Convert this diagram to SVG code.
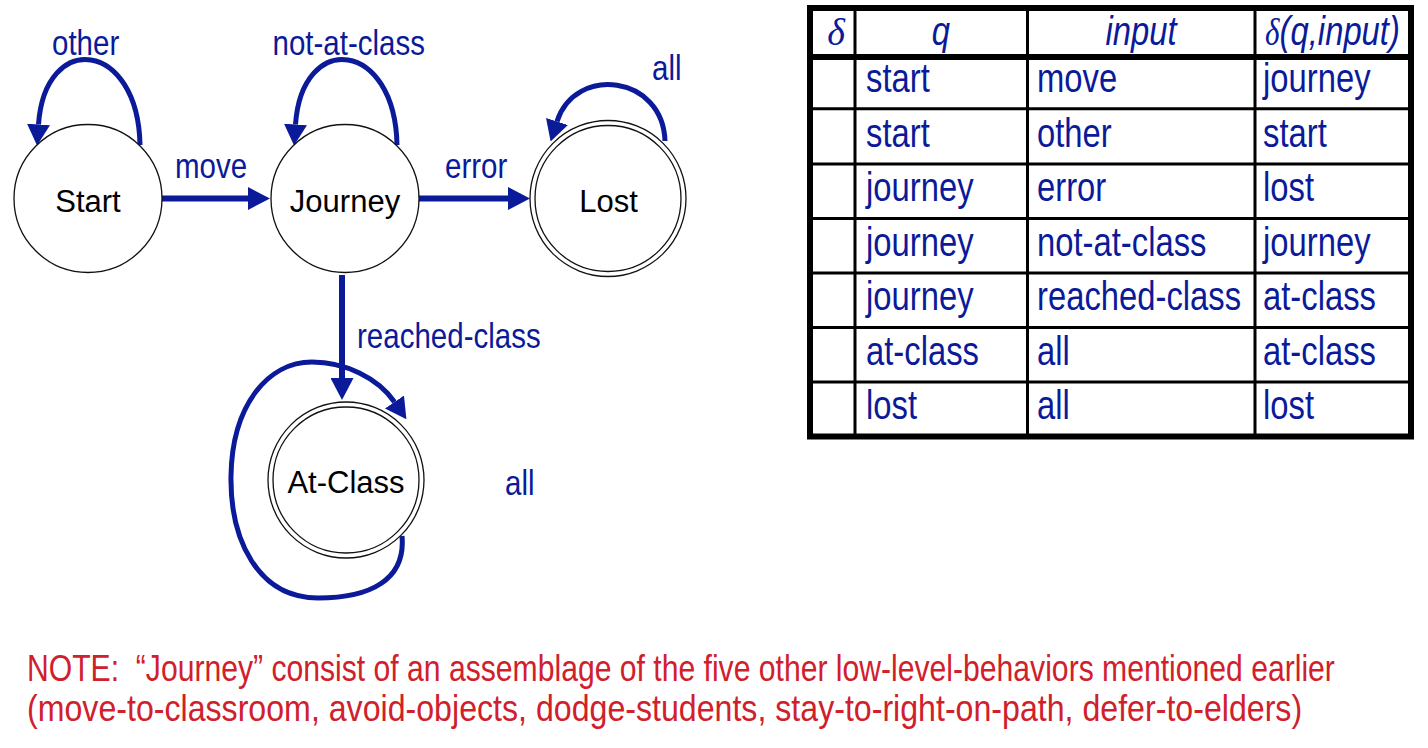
<svg xmlns="http://www.w3.org/2000/svg" width="1428" height="748" viewBox="0 0 1428 748">
<style>
.bg{fill:#ffffff}
.node{fill:#ffffff;stroke:#111111;stroke-width:1.3}
.nlab{font-family:'Liberation Sans',Arial,sans-serif;font-size:31px;fill:#000000;text-anchor:middle}
.elab{font-family:'Liberation Sans',Arial,sans-serif;font-size:36px;fill:#0b1a99}
.edge{fill:none;stroke:#0b1a99;stroke-width:6}
.loop{fill:none;stroke:#0b1a99;stroke-width:5}
.tl{stroke:#000000;stroke-width:3;fill:none}
.tt{font-family:'Liberation Sans',Arial,sans-serif;font-size:40px;fill:#0b1a99}
.th{font-family:'Liberation Sans',Arial,sans-serif;font-size:40px;fill:#0b1a99;font-style:italic;text-anchor:middle}
.dl{font-family:'Liberation Serif','Times New Roman',serif;font-style:italic;font-size:38px;fill:#0b1a99}
.note{font-family:'Liberation Sans',Arial,sans-serif;font-size:36.5px;fill:#d0202c}
</style>
<defs>
<marker id="ah" markerUnits="userSpaceOnUse" viewBox="0 0 22 23" markerWidth="22" markerHeight="23" refX="0" refY="11.5" orient="auto">
<path d="M0,0 L22,11.5 L0,23 z" fill="#0b1a99"/>
</marker>
<marker id="ahs" markerUnits="userSpaceOnUse" viewBox="0 0 21 23" markerWidth="21" markerHeight="23" refX="0" refY="11.5" orient="auto">
<path d="M0,0 L21,11.5 L0,23 z" fill="#0b1a99"/>
</marker>
</defs>
<rect class="bg" x="0" y="0" width="1428" height="748"/>

<g id="connectors">
<path class="loop" d="M140,145 C138,40 45,30 38.5,124.5" marker-end="url(#ahs)"/>
<path class="loop" d="M397,145 C395,40 302,30 295.5,124.5" marker-end="url(#ahs)"/>
<path class="loop" d="M665,141 C663,75 575,65 557,121.5" marker-end="url(#ahs)"/>
<path class="edge" d="M162,198.5 L248,198.5" marker-end="url(#ah)"/>
<path class="edge" d="M418,198.5 L508,198.5" marker-end="url(#ah)"/>
<path class="edge" d="M342,275 L342,378" marker-end="url(#ah)"/>
<path class="loop" d="M402,536 C406,580 370,598 318,598 C258,598 230,540 231,476 C232,405 268,362 312,362 C345,362 378,378 394.5,402" marker-end="url(#ahs)"/>
<g transform="scale(0.82,1)">
<text class="elab" x="63.41" y="55">other</text>
<text class="elab" x="332.32" y="55">not-at-class</text>
<text class="elab" x="795.12" y="80">all</text>
<text class="elab" x="213.41" y="178">move</text>
<text class="elab" x="542.68" y="178">error</text>
<text class="elab" x="435.37" y="348">reached-class</text>
<text class="elab" x="615.85" y="495">all</text>
</g>
</g>

<g id="node-start">
<circle class="node" cx="88" cy="198.5" r="74"/>
<text class="nlab" x="88" y="212">Start</text>
</g>
<g id="node-journey">
<circle class="node" cx="345" cy="198.5" r="74"/>
<text class="nlab" x="345" y="212">Journey</text>
</g>
<g id="node-lost">
<circle class="node" cx="608" cy="198.5" r="78"/>
<circle class="node" cx="608" cy="198.5" r="73"/>
<text class="nlab" x="608.5" y="212">Lost</text>
</g>
<g id="node-atclass">
<circle class="node" cx="346" cy="480" r="78"/>
<circle class="node" cx="346" cy="480" r="73"/>
<text class="nlab" x="346" y="493">At-Class</text>
</g>

<g id="table">
<rect x="810" y="8" width="601" height="428.5" fill="#ffffff" stroke="#000000" stroke-width="6"/>
<line class="tl" x1="855" y1="8" x2="855" y2="436.5"/>
<line class="tl" x1="1027.5" y1="8" x2="1027.5" y2="436.5"/>
<line class="tl" x1="1255" y1="8" x2="1255" y2="436.5"/>
<line x1="810" y1="57" x2="1411" y2="57" stroke="#000000" stroke-width="6"/>
<line class="tl" x1="810" y1="108.7" x2="1411" y2="108.7"/>
<line class="tl" x1="810" y1="164" x2="1411" y2="164"/>
<line class="tl" x1="810" y1="218.5" x2="1411" y2="218.5"/>
<line class="tl" x1="810" y1="273" x2="1411" y2="273"/>
<line class="tl" x1="810" y1="327.5" x2="1411" y2="327.5"/>
<line class="tl" x1="810" y1="382" x2="1411" y2="382"/>
<text class="dl" x="836" y="45" text-anchor="middle">δ</text>
<g transform="scale(0.82,1)">
<text class="th" x="1147.56" y="45">q</text>
<text class="th" x="1391.46" y="45">input</text>
<text class="th" x="1625" y="45"><tspan class="dl">δ</tspan>(q,input)</text>
<text class="tt" x="1056.1" y="92">start</text>
<text class="tt" x="1264.63" y="92">move</text>
<text class="tt" x="1540.24" y="92">journey</text>
<text class="tt" x="1056.1" y="147">start</text>
<text class="tt" x="1264.63" y="147">other</text>
<text class="tt" x="1540.24" y="147">start</text>
<text class="tt" x="1056.1" y="201.5">journey</text>
<text class="tt" x="1264.63" y="201.5">error</text>
<text class="tt" x="1540.24" y="201.5">lost</text>
<text class="tt" x="1056.1" y="256">journey</text>
<text class="tt" x="1264.63" y="256">not-at-class</text>
<text class="tt" x="1540.24" y="256">journey</text>
<text class="tt" x="1056.1" y="310.5">journey</text>
<text class="tt" x="1264.63" y="310.5">reached-class</text>
<text class="tt" x="1540.24" y="310.5">at-class</text>
<text class="tt" x="1056.1" y="365">at-class</text>
<text class="tt" x="1264.63" y="365">all</text>
<text class="tt" x="1540.24" y="365">at-class</text>
<text class="tt" x="1056.1" y="419.5">lost</text>
<text class="tt" x="1264.63" y="419.5">all</text>
<text class="tt" x="1540.24" y="419.5">lost</text>
</g>
</g>

<g id="note" transform="scale(0.82,1)">
<text class="note" x="32.93" y="681" xml:space="preserve" textLength="1595" lengthAdjust="spacingAndGlyphs">NOTE:  “Journey” consist of an assemblage of the five other low-level-behaviors mentioned earlier</text>
<text class="note" x="32.93" y="721" textLength="1555" lengthAdjust="spacingAndGlyphs">(move-to-classroom, avoid-objects, dodge-students, stay-to-right-on-path, defer-to-elders)</text>
</g>
</svg>
